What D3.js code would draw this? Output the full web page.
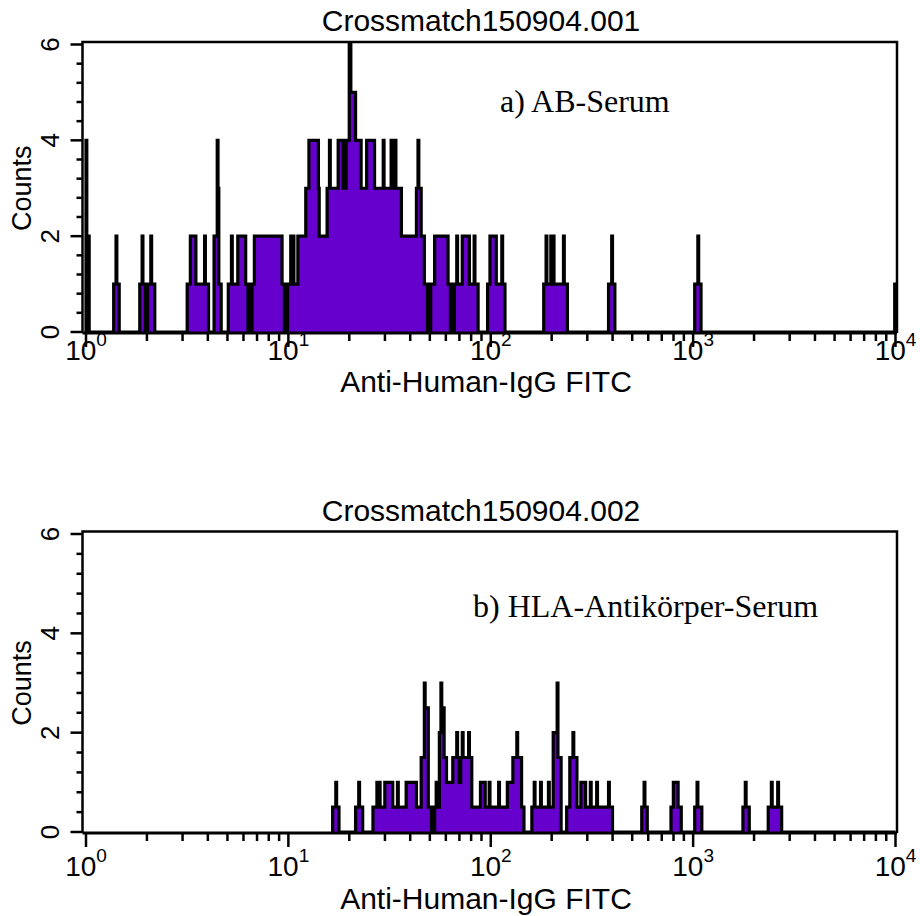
<!DOCTYPE html>
<html>
<head>
<meta charset="utf-8">
<script src="https://cdn.jsdelivr.net/npm/d3@7"></script>
<style>
body { margin: 0; background: #fff; }
text { font-family: "Liberation Sans", Arial, sans-serif; fill: #000; }
text.note { font-family: "Liberation Serif", "Times New Roman", serif; }
</style>
</head>
<body>
<svg id="chart" width="920" height="916"></svg>
<script>
// histograms: channel (0-1023, 256 per decade) where a run starts, and the count of that run
var ch1 = [0, 1, 4, 35, 38, 39, 42, 68, 71, 72, 75, 76, 77, 78, 82, 83, 87,
    128, 132, 139, 150, 151, 155, 162, 166, 167, 168, 171, 180, 184, 185, 192,
    202, 205, 207, 209, 210, 213, 248, 251, 252, 254, 255, 259, 260, 262, 263,
    268, 278, 282, 294, 295, 305, 308, 309, 319, 325, 326, 327, 329, 333, 335,
    341, 348, 355, 365, 376, 377, 386, 387, 391, 392, 399, 418, 420, 421, 424,
    428, 432, 433, 435, 436, 441, 458, 461, 462, 465, 466, 469, 470, 476, 485,
    491, 492, 496, 508, 511, 519, 526, 527, 530, 579, 582, 583, 588, 589, 591,
    592, 604, 605, 609, 661, 665, 666, 669, 770, 774, 775, 778, 1023];
var n1 = [4, 2, 0, 1, 2, 1, 0, 1, 2, 1, 0, 1, 0, 1, 2, 1, 0,
    1, 2, 1, 2, 1, 0, 2, 4, 3, 1, 0, 1, 2, 1, 2,
    1, 0, 1, 0, 1, 2, 1, 0, 1, 0, 1, 2, 1, 2, 1,
    2, 3, 4, 3, 2, 3, 4, 3, 4, 3, 4, 3, 4, 6, 5,
    4, 3, 4, 3, 4, 3, 4, 3, 4, 3, 2, 3, 4, 3, 2,
    1, 0, 1, 0, 1, 2, 1, 0, 1, 0, 1, 2, 1, 2, 1,
    2, 1, 0, 1, 2, 1, 2, 1, 0, 1, 2, 1, 2, 1, 2,
    1, 2, 1, 0, 1, 2, 1, 0, 1, 2, 1, 0, 1];

var ch2 = [312, 316, 317, 320, 341, 345, 346, 350, 363, 368, 372, 378, 388,
    394, 395, 405, 418, 424, 428, 429, 433, 437, 438, 440, 441, 443, 444, 447,
    449, 450, 453, 456, 464, 469, 470, 472, 474, 476, 477, 484, 485, 488, 499,
    505, 510, 511, 522, 523, 533, 540, 545, 546, 551, 554, 564, 567, 568, 575,
    576, 585, 586, 591, 596, 597, 601, 608, 612, 616, 617, 621, 626, 632, 638,
    639, 646, 647, 661, 662, 666, 703, 706, 707, 710, 740, 743, 749, 753, 770,
    773, 774, 779, 831, 834, 835, 839, 863, 867, 868, 875, 876, 880];
var n2 = [0.5, 1, 0.5, 0, 0.5, 1, 0.5, 0, 0.5, 1, 0.5, 1, 0.5,
    1, 0.5, 1, 0.5, 1.5, 3, 2.5, 0.5, 0, 0.5, 0, 0.5, 1, 0.5, 2,
    3, 2.5, 1.5, 1, 1.5, 2, 1.5, 1, 1.5, 2, 1.5, 2, 1.5, 0.5, 1,
    0.5, 1, 0.5, 1, 0.5, 1, 1.5, 2, 1.5, 0.5, 0, 0.5, 1, 0.5, 1,
    0.5, 1, 0.5, 2, 3, 1.5, 0, 0.5, 1.5, 2, 1.5, 0.5, 1, 0.5, 1,
    0.5, 1, 0.5, 1, 0.5, 0, 0.5, 1, 0.5, 0, 0.5, 1, 0.5, 0, 0.5,
    1, 0.5, 0, 0.5, 1, 0.5, 0, 0.5, 1, 0.5, 1, 0.5, 0];

var titles = ["Crossmatch150904.001", "Crossmatch150904.002"];
var notes = ["a) AB-Serum", "b) HLA-Antik\u00f6rper-Serum"];
var xTitle = "Anti-Human-IgG FITC";
var yTitle = "Counts";
var decades = [0, 1, 2, 3, 4];
var yMajor = [0, 2, 4, 6];

var svg = d3.select("#chart");

var panels = [
    { ch: ch1, n: n1, title: titles[0], note: notes[0],
      top: 42, yTop: 44.5, yBottom: 332, titleY: 31, noteX: 500, noteY: 112,
      tickLabelY: 360, axisTitleY: 392 },
    { ch: ch2, n: n2, title: titles[1], note: notes[1],
      top: 531.5, yTop: 534, yBottom: 832, titleY: 521, noteX: 473, noteY: 617,
      tickLabelY: 876, axisTitleY: 909 }
];

var left = 82.5, right = 897;

function chanValue(c) { return Math.pow(10, c / 256); }

function draw_panel(p) {
    var x = d3.scaleLog().domain([1, 1e4]).range([86, 895.5]);
    var y = d3.scaleLinear().domain([0, 6]).range([p.yBottom, p.yTop]);
    var g = svg.append("g");

    // step points of the histogram
    var pts = [[p.ch[0], 0]];
    p.ch.forEach(function (c, i) { pts.push([c, p.n[i]]); });
    pts.push([1024, p.n[p.n.length - 1]]);
    pts.push([1024, 0]);

    var area = d3.area()
        .x(function (d) { return x(chanValue(d[0])); })
        .y0(y(0))
        .y1(function (d) { return y(d[1]); })
        .curve(d3.curveStepAfter);
    var line = d3.line()
        .x(function (d) { return x(chanValue(d[0])); })
        .y(function (d) { return y(d[1]); })
        .curve(d3.curveStepAfter);

    g.append("path").attr("d", area(pts)).attr("fill", "#6600cc");
    g.append("path").attr("d", line(pts))
        .attr("fill", "none").attr("stroke", "#000")
        .attr("stroke-width", 3.2).attr("stroke-linejoin", "miter");

    // frame: left, top, right; bottom axis
    g.append("path")
        .attr("d", "M" + left + "," + (p.yBottom + 1) + "V" + p.top + "H" + right + "V" + (p.yBottom + 1))
        .attr("fill", "none").attr("stroke", "#000").attr("stroke-width", 2.5);
    g.append("line")
        .attr("x1", left).attr("x2", right)
        .attr("y1", p.yBottom + 1).attr("y2", p.yBottom + 1)
        .attr("stroke", "#000").attr("stroke-width", 3);

    // y ticks
    var yTicks = d3.range(0, 6.01, 0.4);
    g.selectAll(".yt").data(yTicks).enter().append("line")
        .attr("x1", function (d) { return yMajor.indexOf(Math.round(d * 10) / 10) >= 0 ? left - 12 : left - 6; })
        .attr("x2", left)
        .attr("y1", function (d) { return y(d); })
        .attr("y2", function (d) { return y(d); })
        .attr("stroke", "#000").attr("stroke-width", 2.5);
    g.selectAll(".yl").data(yMajor).enter().append("text")
        .attr("transform", function (d) { return "translate(59," + y(d) + ") rotate(-90)"; })
        .attr("text-anchor", "middle")
        .style("font-size", "26px")
        .text(function (d) { return d; });
    g.append("text")
        .attr("transform", "translate(31," + (p.yBottom + p.yTop) / 2 + ") rotate(-90)")
        .attr("text-anchor", "middle")
        .style("font-size", "27px")
        .text(yTitle);

    // x ticks (log)
    var minor = [];
    decades.slice(0, 4).forEach(function (d) {
        for (var k = 2; k <= 9; k++) minor.push(k * Math.pow(10, d));
    });
    var xb = p.yBottom + 2;
    g.selectAll(".xm").data(minor).enter().append("line")
        .attr("x1", function (d) { return x(d); })
        .attr("x2", function (d) { return x(d); })
        .attr("y1", xb).attr("y2", xb + 7)
        .attr("stroke", "#000").attr("stroke-width", 2.5);
    g.selectAll(".xM").data(decades).enter().append("line")
        .attr("x1", function (d) { return x(Math.pow(10, d)); })
        .attr("x2", function (d) { return x(Math.pow(10, d)); })
        .attr("y1", xb).attr("y2", xb + 13)
        .attr("stroke", "#000").attr("stroke-width", 2.5);
    var lab = g.selectAll(".xl").data(decades).enter().append("text")
        .attr("x", function (d) { return x(Math.pow(10, d)); })
        .attr("y", p.tickLabelY)
        .attr("text-anchor", "middle")
        .style("font-size", "28px");
    lab.append("tspan").text("10");
    lab.append("tspan").attr("dy", -14).style("font-size", "19px")
        .text(function (d) { return d; });

    g.append("text")
        .attr("x", 486).attr("y", p.axisTitleY)
        .attr("text-anchor", "middle")
        .style("font-size", "30px")
        .text(xTitle);
    g.append("text")
        .attr("x", 481).attr("y", p.titleY)
        .attr("text-anchor", "middle")
        .style("font-size", "30px")
        .text(p.title);
    g.append("text")
        .attr("class", "note")
        .attr("x", p.noteX).attr("y", p.noteY)
        .style("font-size", "32px")
        .text(p.note);
}

panels.forEach(draw_panel);
</script>
</body>
</html>
